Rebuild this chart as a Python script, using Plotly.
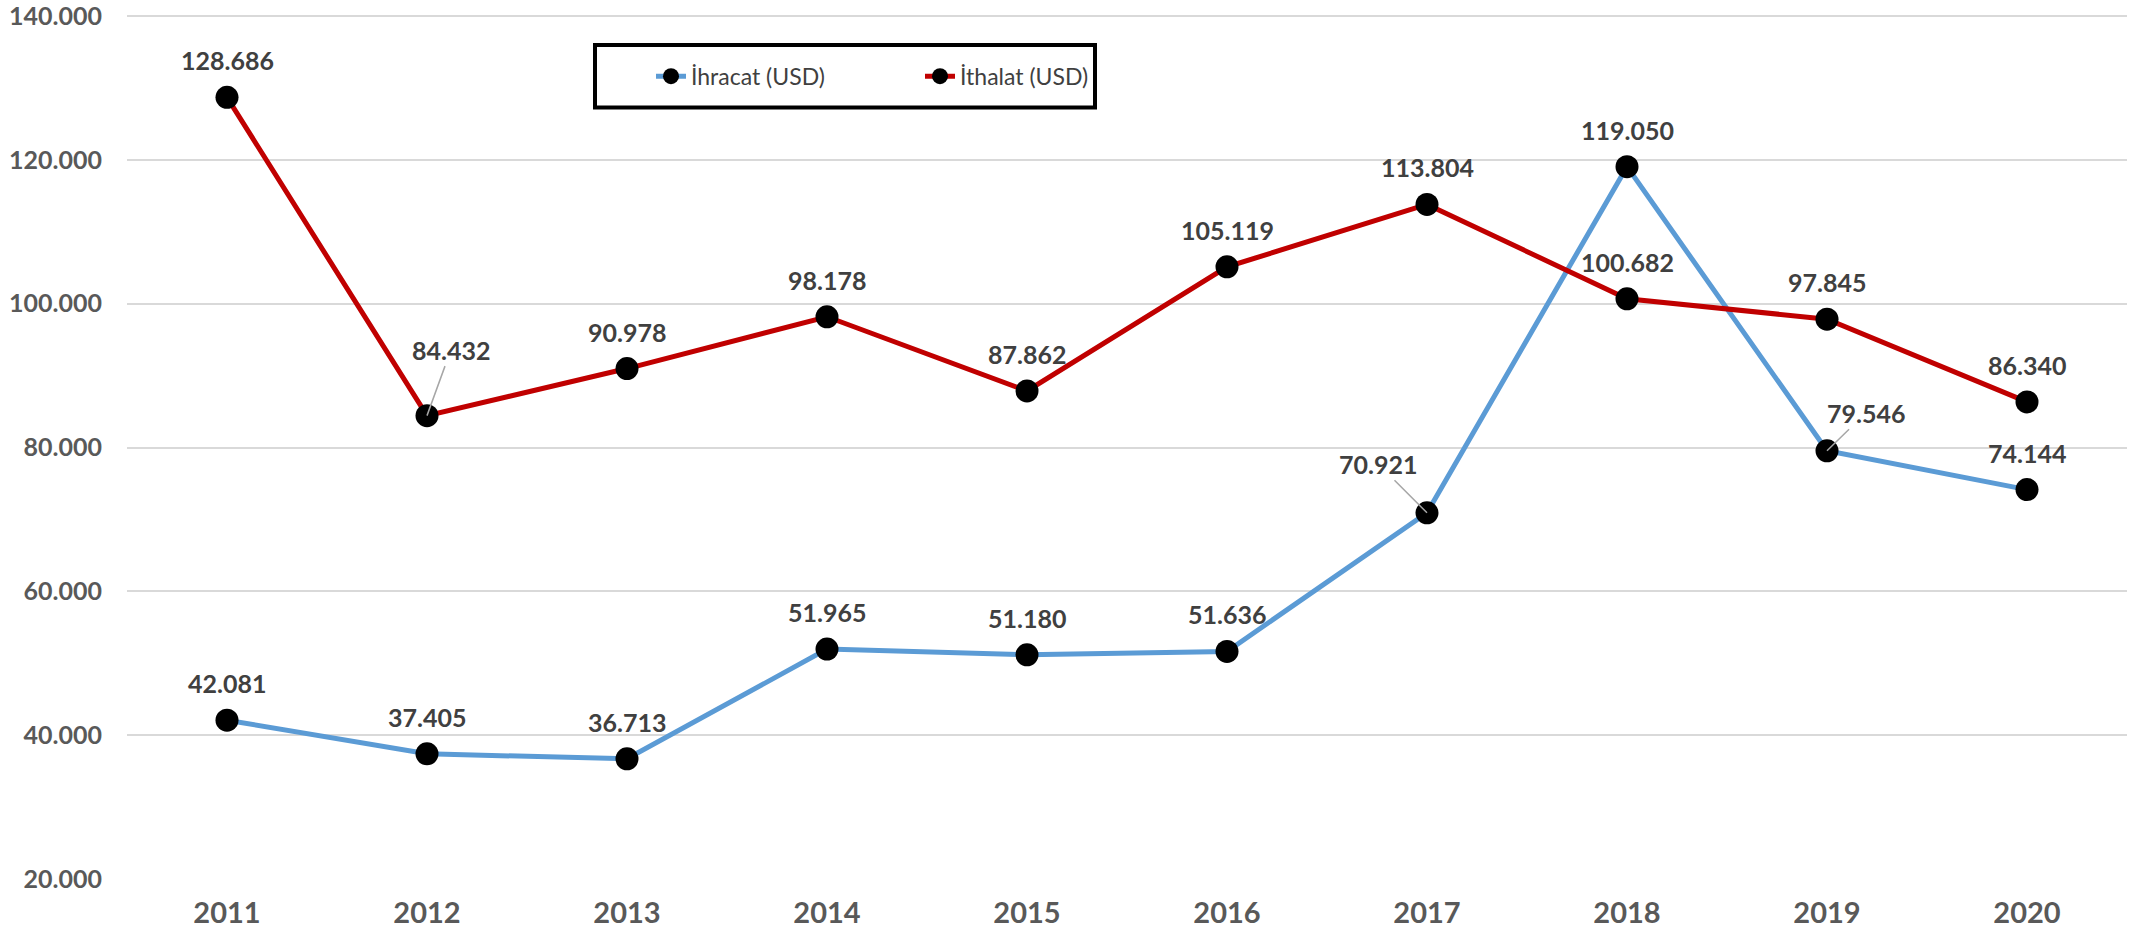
import plotly.graph_objects as go

years = ["2011", "2012", "2013", "2014", "2015", "2016", "2017", "2018", "2019", "2020"]
ihracat = [42081, 37405, 36713, 51965, 51180, 51636, 70921, 119050, 79546, 74144]
ithalat = [128686, 84432, 90978, 98178, 87862, 105119, 113804, 100682, 97845, 86340]
y_ticks = [20000, 40000, 60000, 80000, 100000, 120000, 140000]

FONT = "Lato"
BLUE = "#5B9BD5"
RED = "#C00000"
LABEL = "#404040"
AXIS = "#595959"


def fmt(v):
    return f"{v:,}".replace(",", ".")


fig = go.Figure()
fig.add_trace(go.Scatter(
    x=years, y=ihracat, name="İhracat (USD)", mode="lines+markers",
    line=dict(color=BLUE, width=5),
    marker=dict(color="black", size=23),
))
fig.add_trace(go.Scatter(
    x=years, y=ithalat, name="İthalat (USD)", mode="lines+markers",
    line=dict(color=RED, width=5),
    marker=dict(color="black", size=23),
))

# label placements (pixel offsets for labels with leader lines)
leader = {("ithalat", 1): (24, -66), ("ihracat", 6): (-49, -49), ("ihracat", 8): (39, -38)}

annotations = []
for name, series in (("ihracat", ihracat), ("ithalat", ithalat)):
    for i, v in enumerate(series):
        base = dict(x=i, y=v, xref="x", yref="y", text=fmt(v),
                    font=dict(family=FONT, size=25, color=LABEL, weight="bold"))
        if (name, i) in leader:
            ax, ay = leader[(name, i)]
            annotations.append(dict(**base, showarrow=True, ax=ax, ay=ay, arrowhead=0,
                                    arrowwidth=1.5, arrowcolor="#A6A6A6", standoff=0))
        else:
            annotations.append(dict(**base, showarrow=False, yshift=37))

fig.update_layout(
    width=2139, height=937,
    margin=dict(l=127, r=12, t=13, b=58, autoexpand=False),
    paper_bgcolor="white", plot_bgcolor="white",
    separators=",.",
    showlegend=True,
    legend=dict(
        orientation="h", x=0.262, xanchor="left", y=0.927, yanchor="middle",
        bgcolor="rgba(0,0,0,0)", borderwidth=0, entrywidth=224,
        font=dict(family=FONT, size=23, color=LABEL),
    ),
    annotations=annotations,
    shapes=[dict(type="rect", xref="paper", yref="paper", x0=0.234, x1=0.484,
                 y0=0.891, y1=0.963, line=dict(color="black", width=4),
                 fillcolor="rgba(0,0,0,0)", layer="above")],
    xaxis=dict(
        type="category", range=[-0.5, 9.5], showgrid=False, zeroline=False,
        showline=False, ticks="", automargin=False,
        tickfont=dict(family=FONT, size=29, color=AXIS, weight="bold"),
        ticklabelstandoff=14,
    ),
    yaxis=dict(
        range=[20000, 140417], tickvals=y_ticks, tickformat=",.0f",
        showgrid=True, gridcolor="#D9D9D9", gridwidth=2, zeroline=False,
        showline=False, ticks="", automargin=False, ticklabeloverflow="allow",
        tickfont=dict(family=FONT, size=25, color=AXIS, weight="bold"),
        ticklabelstandoff=24,
    ),
)

fig.write_html("out.html", config={"displayModeBar": False},
               post_script="document.body.style.margin='0';")
